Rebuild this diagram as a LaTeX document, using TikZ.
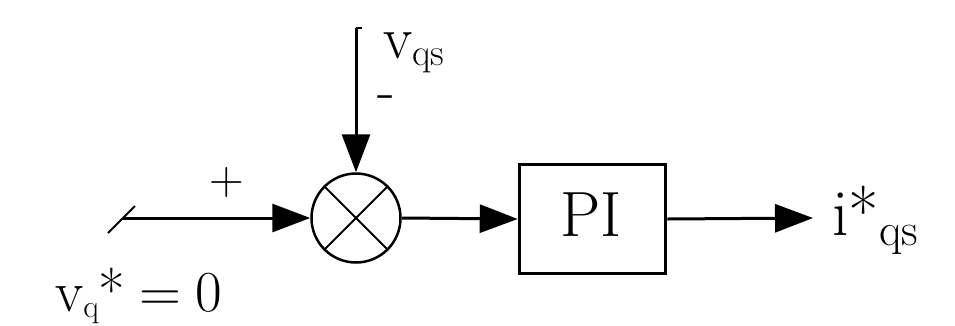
\documentclass[tikz,border=0pt]{standalone}
\usepackage{fontspec}
\usetikzlibrary{arrows.meta}
\begin{document}
\begin{tikzpicture}[x=1pt,y=-1pt,
  sig/.style={line width=3pt,-{Triangle[length=38pt,width=28pt]}},
  sumnode/.style={circle,draw,line width=2.5pt,minimum size=89pt,inner sep=0pt},
  block/.style={draw,line width=3.5pt,minimum width=146pt,minimum height=109pt,inner sep=0pt},
  lbl/.style={inner sep=0pt,anchor=base west}]
\useasboundingbox (0,0) rectangle (955,325);
% summing junction
\node[sumnode] (sum) at (356,218) {};
\draw[line width=2pt] (sum.north west) -- (sum.south east)
                      (sum.north east) -- (sum.south west);
% PI block
\node[block] (pi) at (592.5,219) {};
\node[inner sep=0pt,anchor=base] (pitxt) at (591,236) {\fontsize{64}{68}\selectfont PI};
% input
\coordinate (in) at (123,218);
\coordinate (slashA) at (108,233);
\coordinate (slashB) at (135,206);
\draw[line width=2pt] (slashA) -- (slashB);
\draw[sig] (in) -- (sum.west);
% feedback from top
\coordinate (top) at (356,28);
\coordinate (topstub) at (362,28);
\draw[line width=2.5pt] (top) -- (topstub);
\draw[sig] (top) -- (sum.north);
% forward path
\draw[sig] (sum.east) -- (pi.west);
\coordinate (out) at (813,218);
\draw[sig] (pi.east) -- (out);
% signs
\node[inner sep=0pt] (plus) at (227,183) {\fontsize{48}{52}\selectfont +};
\node[inner sep=0pt] (minus) at (386,103) {\fontsize{58}{60}\selectfont -};
% labels
\node[lbl] (vqs) at (383,58) {\fontsize{60}{62}\selectfont v\raisebox{-7pt}{\fontsize{38}{40}\selectfont qs}};
\node[lbl] (vq) at (55,311) {\fontsize{58}{60}\selectfont v\raisebox{-6pt}{\fontsize{32}{34}\selectfont q}*\hspace{14pt}=\hspace{14pt}0};
\node[lbl] (iqs) at (832,235) {\fontsize{66}{70}\selectfont i*\raisebox{-10pt}{\fontsize{46}{50}\selectfont qs}};
\end{tikzpicture}
\end{document}
